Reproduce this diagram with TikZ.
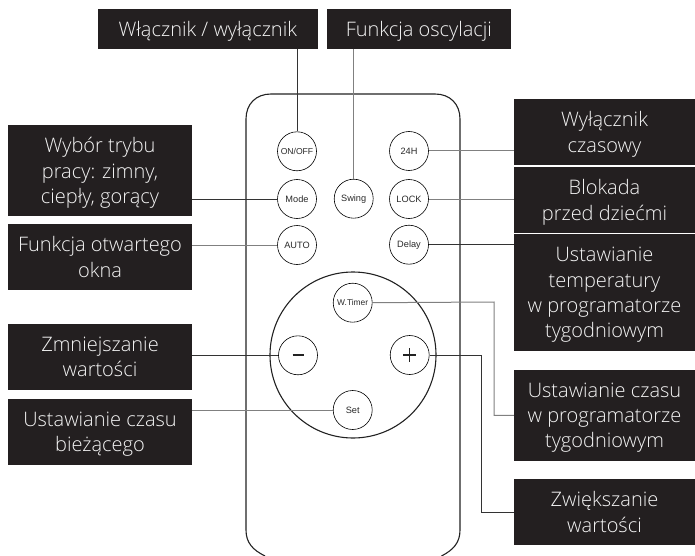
\documentclass[tikz,border=0pt]{standalone}
\usepackage{fontspec}
\setmainfont{Open Sans Light}
\setsansfont{Liberation Sans}
\definecolor{labbg}{HTML}{231F20}
\definecolor{labfg}{HTML}{F5F5F5}
\definecolor{linec}{HTML}{333333}
\definecolor{lineg}{HTML}{808080}
\definecolor{bodyc}{HTML}{222222}
\definecolor{btntext}{HTML}{2A2A2A}
\tikzset{
 lab/.style={fill=labbg,text=labfg,align=center,inner sep=0pt,font=\fontsize{20}{25.3}\selectfont,anchor=center,text depth=0pt},
 btn/.style={circle,draw=black,line width=0.6pt,minimum size=39pt,inner sep=0pt,text=btntext,font=\sffamily\fontsize{9.2}{10}\selectfont,fill=white},
 conn/.style={draw=linec,line width=0.7pt},
 conng/.style={draw=lineg,line width=1pt},
 body/.style={draw=bodyc,line width=1.1pt}
}
\begin{document}
\begin{tikzpicture}[x=1pt,y=-1pt]
\useasboundingbox (0,0) rectangle (695,556);
% body
\draw[body] (265,556) .. controls (253,550) and (246,543) .. (246,530) -- (246,119) .. controls (246,104) and (256,94) .. (271,94) -- (435,94) .. controls (450,94) and (460,104) .. (460,119) -- (460,530) .. controls (460,543) and (453,550) .. (441.5,556);
\node[circle,draw=bodyc,line width=1.1pt,minimum size=166pt,inner sep=0pt] (pad) at (353,355) {};
% buttons
\node[btn,font=\sffamily\fontsize{8.6}{10}\selectfont] (onoff) at (297,151.3) {ON/OFF};
\node[btn] (mode) at (297,199) {Mode};
\node[btn] (auto) at (297,245) {AUTO};
\node[btn] (swing) at (353.7,198.7) {Swing};
\node[btn] (h24) at (409,151) {24H};
\node[btn] (lock) at (409,199) {LOCK};
\node[btn] (delay) at (409,244.7) {Delay};
\node[btn,font=\sffamily\fontsize{8.4}{10}\selectfont] (wtimer) at (352.7,302.7) {W.Timer};
\node[btn] (minus) at (298,355.3) {};
\node[btn] (plus) at (409.7,355) {};
\node[btn] (set) at (352.7,410) {Set};
\draw[line width=2.3pt,draw=bodyc] ([xshift=-5.5pt]minus.center) -- ([xshift=5.5pt]minus.center);
\draw[line width=1.4pt,draw=bodyc] ([xshift=-6.3pt]plus.center) -- ([xshift=6.3pt]plus.center) ([yshift=-6.8pt]plus.center) -- ([yshift=6.8pt]plus.center);
% labels
\node[lab,minimum width=219.7pt,minimum height=40pt] (l1) at (207.8,29) {Włącznik / wyłącznik};
\node[lab,minimum width=183.7pt,minimum height=40pt] (l2) at (418.9,29) {Funkcja oscylacji};
\node[lab,minimum width=184pt,minimum height=91pt] (l3) at (100,170.5) {Wybór trybu\\pracy: zimny,\\ciepły, gorący};
\node[lab,minimum width=184pt,minimum height=66pt] (l4) at (100,257) {Funkcja otwartego\\okna};
\node[lab,minimum width=184pt,minimum height=66pt] (l5) at (100,357) {Zmniejszanie\\wartości};
\node[lab,minimum width=184pt,minimum height=65.7pt] (l6) at (100,431.9) {Ustawianie czasu\\bieżącego};
\node[lab,minimum width=181pt,minimum height=65.7pt] (r1) at (604.5,131.9) {Wyłącznik\\czasowy};
\node[lab,minimum width=181pt,minimum height=66pt] (r2) at (604.5,200) {Blokada\\przed dziećmi};
\node[lab,minimum width=181pt,minimum height=116.4pt] (r3) at (604.5,292.5) {Ustawianie\\temperatury\\w programatorze\\tygodniowym};
\node[lab,minimum width=181pt,minimum height=90.7pt] (r4) at (604.5,415.35) {Ustawianie czasu\\w programatorze\\tygodniowym};
\node[lab,minimum width=181pt,minimum height=65.7pt] (r5) at (604.5,511.85) {Zwiększanie\\wartości};
% connectors
\draw[conn] (l1.south -| onoff) -- (onoff);
\draw[conng] (l2.south -| swing) -- (swing);
\draw[conn] (mode) -- (mode -| l3.east);
\draw[conng] (auto) -- (auto -| l4.east);
\draw[conn] (minus) -- (minus -| l5.east);
\draw[conng] (set) -- (set -| l6.east);
\draw[conng] (h24) -- (h24 -| r1.west);
\draw[conng] (lock) -- (lock -| r2.west);
\draw[conn] (delay) -- (delay -| r3.west);
\coordinate (w1) at (494,302);
\coordinate (p1) at (481.5,355);
\draw[conng] (wtimer.east) -- (w1) |- (r4.west);
\draw[conn] (plus.east) -- (p1) |- (r5.west);
\end{tikzpicture}
\end{document}
